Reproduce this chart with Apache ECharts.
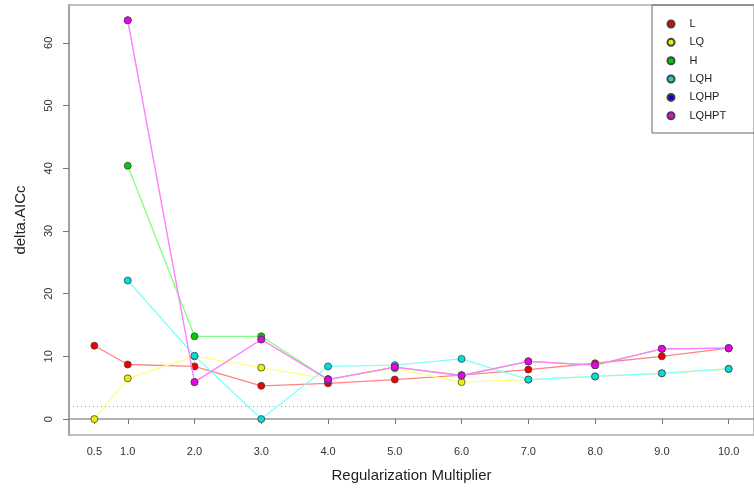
<!DOCTYPE html>
<html><head><meta charset="utf-8">
<script src="https://cdn.jsdelivr.net/npm/echarts@6/dist/echarts.min.js"></script>
<style>html,body{margin:0;padding:0;background:#fff}#c{width:754px;height:488px}</style>
</head><body><div id="c"></div>
<script>
const multipliers = [0.5, 1, 2, 3, 4, 5, 6, 7, 8, 9, 10];
const xTickLabels = ['0.5','1.0','2.0','3.0','4.0','5.0','6.0','7.0','8.0','9.0','10.0'];
const yTicks = [0, 10, 20, 30, 40, 50, 60];
const L     = [11.7, 8.7, 8.4, 5.3, 5.7, 6.3, 7.0, 7.9, 8.9, 10.0, 11.3];
const LQ    = [0, 6.5, 10.0, 8.2, 6.4, 8.1, 5.9, 6.3, 6.8, 7.3, 8.0];
const H     = [null, 40.4, 13.2, 13.2, 6.3, 8.3, 6.95, 9.2, 8.6, 11.2, 11.3];
const LQH   = [null, 22.1, 10.1, 0, 8.4, 8.6, 9.6, 6.3, 6.8, 7.3, 8.0];
const LQHP  = [null, 63.6, 5.9, 12.7, 6.3, 8.3, 6.95, 9.2, 8.6, 11.2, 11.3];
const LQHPT = [null, 63.6, 5.9, 12.7, 6.3, 8.3, 6.95, 9.2, 8.6, 11.2, 11.3];
const threshold = 2;

const defs = [
  ['L', L, '#ee0000', '#ff8585', 1.3],
  ['LQ', LQ, '#eeee00', '#ffff80', 1.3],
  ['H', H, '#00cc00', '#80ff80', 1.3],
  ['LQH', LQH, '#00dddd', '#80ffff', 1.3],
  ['LQHP', LQHP, '#0000cc', '#ff80ff', 0.6],
  ['LQHPT', LQHPT, '#ee00ee', '#ff80ff', 1.3]
];
const series = defs.map(([name, vals, fill, line, lw], i) => {
  const s = {
    name, type: 'line',
    data: multipliers.map((x, j) => vals[j] == null ? null : [x, vals[j]]).filter(d => d),
    symbol: 'circle', symbolSize: 7,
    itemStyle: { color: fill, borderColor: '#444', borderWidth: 0.8 },
    lineStyle: { color: line, width: lw },
    emphasis: { disabled: true },
    z: 2 + i
  };
  if (i === 0) {
    s.markLine = {
      silent: true, symbol: 'none', label: { show: false },
      lineStyle: { type: [1, 3], color: '#999', width: 1 },
      data: [{ yAxis: threshold }]
    };
  }
  return s;
});

const chart = echarts.init(document.getElementById('c'), null, { renderer: 'canvas' });
chart.setOption({
  animation: false,
  backgroundColor: '#fff',
  textStyle: { fontFamily: 'Liberation Sans, Arial, sans-serif' },
  grid: { left: 69, right: -9, top: 5, bottom: 48, show: true, borderColor: '#aaa', borderWidth: 1.5, backgroundColor: 'transparent' },
  xAxis: {
    type: 'value', min: 0.12, max: 10.38,
    name: 'Regularization Multiplier', nameLocation: 'middle', nameGap: 33,
    nameTextStyle: { fontSize: 15, color: '#222' },
    axisLine: { show: true, lineStyle: { color: '#999', width: 1.5 } },
    axisTick: { show: true, length: 5, lineStyle: { color: '#777' }, customValues: multipliers },
    axisLabel: { fontSize: 11, color: '#333', margin: 11, customValues: multipliers,
      formatter: v => xTickLabels[multipliers.indexOf(v)] },
    splitLine: { show: false }
  },
  yAxis: {
    type: 'value', min: -2.54, max: 66.04,
    name: 'delta.AICc', nameLocation: 'middle', nameGap: 41,
    nameTextStyle: { fontSize: 15, color: '#222' },
    axisLine: { show: true, lineStyle: { color: '#999', width: 1.5 } },
    axisTick: { show: true, length: 6, lineStyle: { color: '#777' }, customValues: yTicks },
    axisLabel: { fontSize: 11, color: '#333', rotate: 90, margin: 15, customValues: yTicks },
    splitLine: { show: false }
  },
  legend: {
    orient: 'vertical', left: 666.5, top: 18, padding: 0, icon: 'circle',
    itemWidth: 7, itemHeight: 7, itemGap: 6.35,
    textStyle: { fontSize: 11, color: '#222', lineHeight: 12, padding: [0, 0, 0, 10] },
    data: defs.map(d => d[0])
  },
  graphic: [{
    type: 'rect', shape: { x: 652, y: 5, width: 140, height: 128 },
    style: { fill: 'none', stroke: '#666', lineWidth: 1 }, silent: true, z: 100
  }],
  series
});
</script></body></html>
